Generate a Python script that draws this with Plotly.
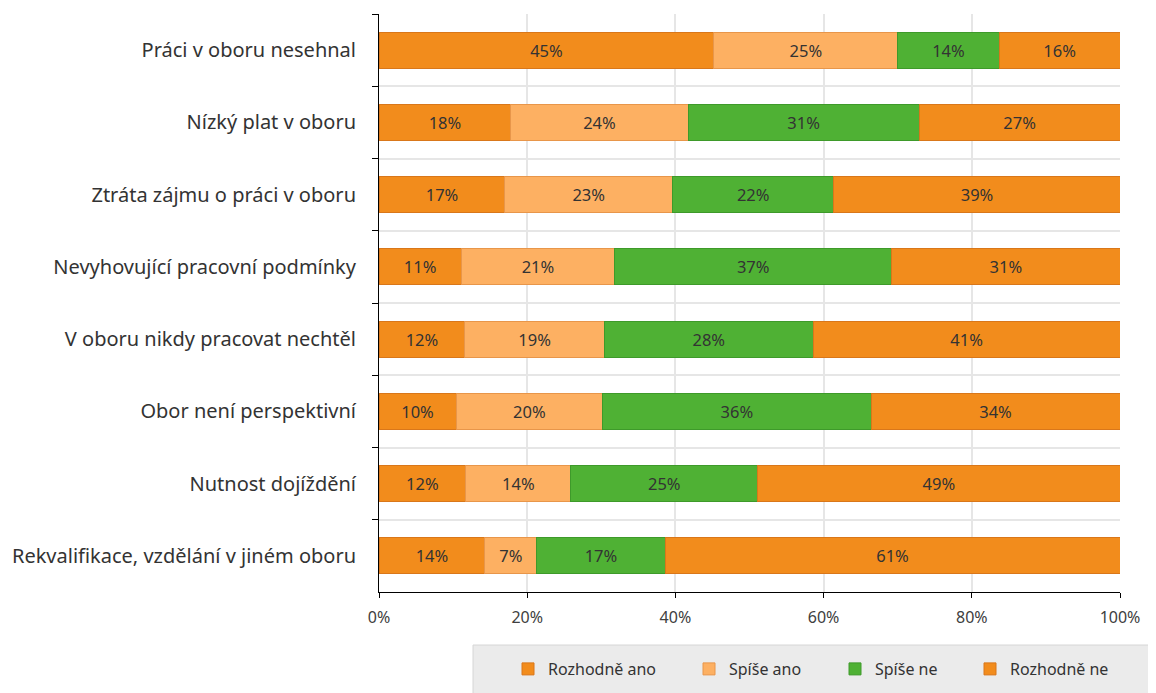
import plotly.graph_objects as go

categories = [
    "Práci v oboru nesehnal",
    "Nízký plat v oboru",
    "Ztráta zájmu o práci v oboru",
    "Nevyhovující pracovní podmínky",
    "V oboru nikdy pracovat nechtěl",
    "Obor není perspektivní",
    "Nutnost dojíždění",
    "Rekvalifikace, vzdělání v jiném oboru",
]
series_names = ["Rozhodně ano", "Spíše ano", "Spíše ne", "Rozhodně ne"]
rozhodne_ano = [45.2, 17.8, 17.0, 11.1, 11.6, 10.4, 11.7, 14.3]
spise_ano = [24.8, 23.9, 22.6, 20.7, 18.8, 19.8, 14.2, 7.0]
spise_ne = [13.7, 31.2, 21.8, 37.4, 28.2, 36.2, 25.2, 17.3]
rozhodne_ne = [16.3, 27.1, 38.6, 30.8, 41.4, 33.6, 48.9, 61.4]
tick_vals = [0, 20, 40, 60, 80, 100]
tick_text = ["0%", "20%", "40%", "60%", "80%", "100%"]

series_values = [rozhodne_ano, spise_ano, spise_ne, rozhodne_ne]
colors = ["#F28C1C", "#FDB062", "#4FB134", "#F28C1C"]
line_colors = ["#D9771A", "#E8964A", "#3E9A2A", "#D9771A"]
legend_ids = ["legend", "legend2", "legend3", "legend4"]
# text start positions of legend entries (page px) -> paper x
legend_text_px = [548, 729, 875, 1010]

FONT = "Noto Sans"
PL, PR, PT, PB = 379, 1120, 14, 592  # plot area on page
OFF = 8  # page body margin
W, H = 1156, 693
PW, PH = PR - PL, PB - PT

fig = go.Figure()
for name, vals, c, lc, lg in zip(series_names, series_values, colors, line_colors, legend_ids):
    fig.add_trace(go.Bar(
        y=categories, x=vals, name=name, orientation="h",
        marker=dict(color=c, line=dict(color=lc, width=1)),
        texttemplate="%{x:.0f}%", textposition="inside", insidetextanchor="middle",
        textfont=dict(family=FONT, size=16.5, color="#333333"),
        hoverinfo="skip", legend=lg,
    ))

legend_common = dict(
    orientation="h", xanchor="left", yanchor="middle",
    y=(PB - 669) / PH,
    bgcolor="rgba(0,0,0,0)", font=dict(family=FONT, size=16, color="#333333"),
    itemwidth=30,
)
legends = {}
for lg, tx in zip(legend_ids, legend_text_px):
    legends[lg] = dict(legend_common, x=(tx - 40 - PL) / PW)

fig.update_layout(
    barmode="stack",
    bargap=0.5,
    width=W, height=H,
    margin=dict(l=PL - OFF, r=W - PR + OFF, t=PT - OFF, b=H - PB + OFF),
    plot_bgcolor="white", paper_bgcolor="white",
    font=dict(family=FONT, color="#333333"),
    uniformtext=dict(mode="show", minsize=10),
    showlegend=True,
    shapes=[dict(
        type="rect", xref="paper", yref="paper",
        x0=(473 - PL) / PW, x1=(1165 - PL) / PW,
        y0=(PB - 645) / PH, y1=(PB - 700) / PH,
        fillcolor="#EBEBEB", line=dict(color="#D6D6D6", width=1), layer="below",
    )],
    **legends,
)
fig.update_xaxes(
    range=[0, 100], tickvals=tick_vals, ticktext=tick_text,
    showgrid=True, gridcolor="#E6E6E6", gridwidth=2,
    showline=True, linecolor="black", linewidth=1,
    ticks="outside", ticklen=5, tickcolor="black",
    tickfont=dict(family=FONT, size=16, color="#404040"),
    ticklabelstandoff=6,
    zeroline=False, automargin=False,
)
fig.update_yaxes(
    autorange="reversed", type="category", tickson="boundaries",
    showline=True, linecolor="black", linewidth=1,
    ticks="outside", ticklen=6, tickcolor="black",
    showgrid=True, gridcolor="#E6E6E6", gridwidth=2,
    tickfont=dict(family=FONT, size=20, color="#333333"),
    ticklabelstandoff=18, automargin=False,
)

fig.write_html("out.html")
